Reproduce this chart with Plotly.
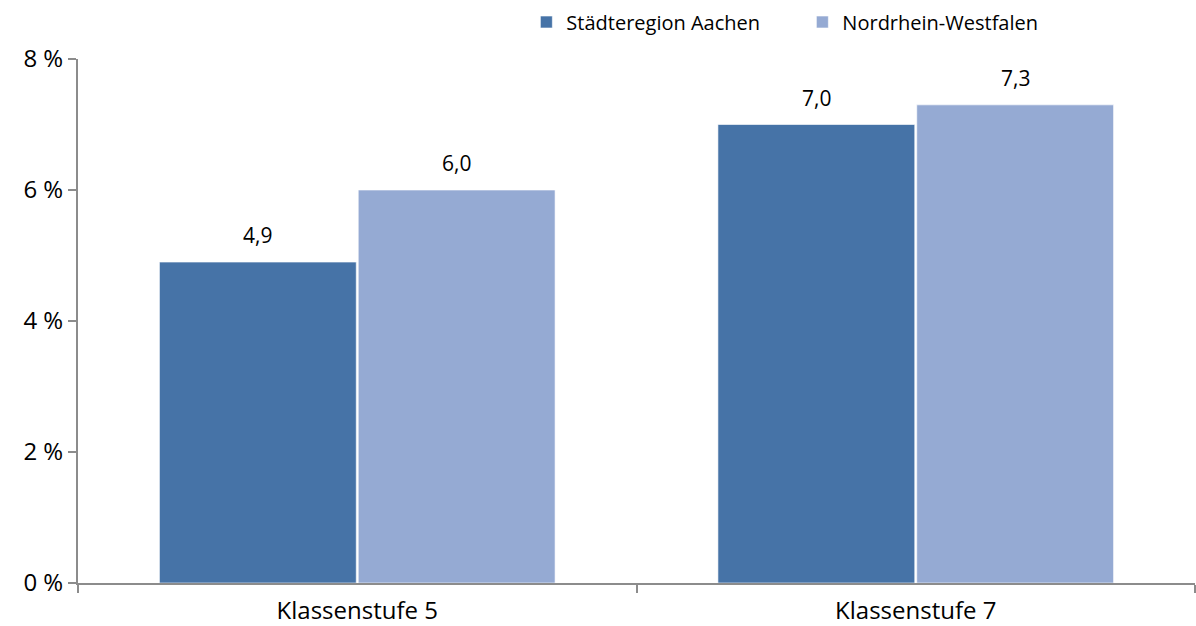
import plotly.graph_objects as go

categories = ["Klassenstufe 5", "Klassenstufe 7"]
series_names = ["Städteregion Aachen", "Nordrhein-Westfalen"]
aachen = [4.9, 7.0]
nrw = [6.0, 7.3]
y_ticks = [0, 2, 4, 6, 8]
colors = ["#4673A7", "#95AAD3"]

bargap = 0.288
bargroupgap = 0.01

fig = go.Figure()
for name, vals, col in zip(series_names, [aachen, nrw], colors):
    fig.add_trace(go.Bar(
        x=categories, y=vals, name=name,
        marker=dict(color=col, line=dict(color="rgba(255,255,255,0.6)", width=1)),
    ))

# data labels above bars
group_w = 1 - bargap
bar_w = group_w / 2
for s, vals in enumerate([aachen, nrw]):
    off = -group_w / 2 + bar_w * (s + 0.5)
    for i, v in enumerate(vals):
        fig.add_annotation(
            x=i + off, y=v, xref="x", yref="y",
            text=f"{v:.1f}".replace(".", ","),
            showarrow=False, yshift=27,
            font=dict(family="Open Sans", size=21, color="#000000"),
        )

fig.update_layout(
    width=1196, height=626,
    margin=dict(l=78, r=1, t=59, b=43),
    barmode="group", bargap=bargap, bargroupgap=bargroupgap,
    plot_bgcolor="white", paper_bgcolor="white",
    font=dict(family="Open Sans", size=20, color="#000000"),
    legend=dict(orientation="h", x=0.4014, xanchor="left", y=1.0706, yanchor="middle",
                font=dict(size=20), entrywidth=231, itemwidth=30,
                traceorder="normal"),
    showlegend=True,
)
fig.update_xaxes(
    type="category", showline=True, linecolor="#8C8C8C", linewidth=2,
    ticks="outside", tickson="boundaries", ticklen=8, tickcolor="#8C8C8C", tickwidth=2,
    showgrid=False, tickfont=dict(size=24), ticklabelstandoff=5,
)
fig.update_yaxes(
    range=[0, 8], tickvals=y_ticks, ticktext=[f"{t} %" for t in y_ticks],
    showline=True, linecolor="#8C8C8C", linewidth=2,
    ticks="outside", ticklen=8, tickcolor="#8C8C8C", tickwidth=2,
    showgrid=False, zeroline=False, tickfont=dict(size=24),
)

fig.write_html("out.html", config={"responsive": False, "displayModeBar": False},
               post_script="document.body.style.margin='0';document.body.style.overflow='hidden';")
